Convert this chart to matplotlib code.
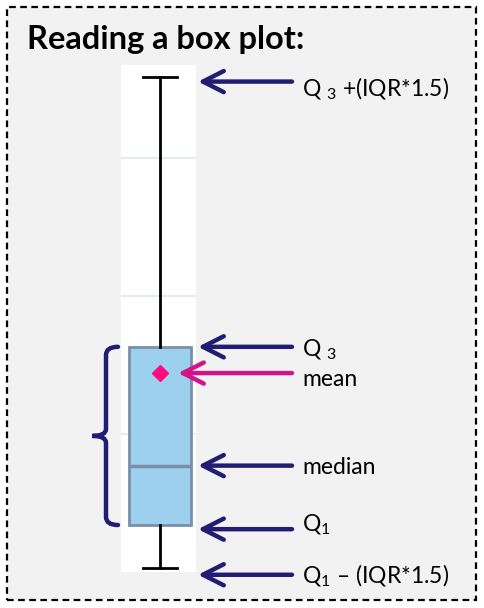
import matplotlib.pyplot as plt
from matplotlib.patches import Rectangle
from matplotlib.path import Path
from matplotlib.patches import PathPatch

plt.rcParams['font.family'] = ['Lato', 'DejaVu Sans']
plt.rcParams['mathtext.fontset'] = 'custom'
plt.rcParams['mathtext.rm'] = 'Lato'
plt.rcParams['mathtext.it'] = 'Lato'

# box plot stats (arbitrary units)
whislo = 0.3
q1 = 3.4
med = 7.7
q3 = 16.3
mean = 14.4
whishi = 35.8
grid_vals = [10, 20, 30]

# arrow labels
labels = ['Q $_{3}$ +(IQR*1.5)', 'Q $_{3}$', 'mean', 'median', 'Q$_{1}$', 'Q$_{1}$ \u2013 (IQR*1.5)']
arrow_y = [whishi - 0.3, q3, mean, med, q1 - 0.3, whislo - 0.5]
label_y = [whishi - 0.8, q3 - 0.2, mean - 0.5, med - 0.1, q1, whislo - 0.6]
arrow_colors = ['#221d72', '#221d72', '#d4138b', '#221d72', '#221d72', '#221d72']

W, H = 484, 608
fig = plt.figure(figsize=(W / 100, H / 100), dpi=100)
fig.patch.set_facecolor('white')

# dashed frame with grey fill
fig.patches.append(Rectangle((7 / W, 1 - 600 / H), 469 / W, 593 / H, transform=fig.transFigure,
                             facecolor='#f2f2f2', edgecolor='black', linestyle=(0, (3, 2)),
                             linewidth=1.6, zorder=-1))

fig.text(27 / W, 1 - 40 / H, 'Reading a box plot:', fontsize=23.5, fontweight='bold',
         va='center', ha='left')

ax = fig.add_axes([121 / W, 1 - 572 / H, 75 / W, 507 / H])
ax.set_facecolor('white')
ax.set_ylim(0, 36.7)
ax.set_xlim(1 - 0.52 * 1.2, 1 + 0.48 * 1.2)
for g in grid_vals:
    ax.axhline(g, color='#e3edf1', lw=1.5, zorder=0)
for s in ax.spines.values():
    s.set_visible(False)

stats = [dict(whislo=whislo, q1=q1, med=med, q3=q3, whishi=whishi, mean=mean, fliers=[])]
ax.bxp(stats, positions=[1], widths=0.99, capwidths=0.53, patch_artist=True, showmeans=True,
       boxprops=dict(facecolor='#9dcfee', edgecolor='#7b8fa6', linewidth=2),
       medianprops=dict(color='#7b8fa6', linewidth=2.5),
       whiskerprops=dict(color='black', linewidth=2),
       capprops=dict(color='black', linewidth=2),
       meanprops=dict(marker='D', markerfacecolor='#ff0a7f', markeredgecolor='#ff0a7f',
                      markersize=8))
ax.lines[-1].set_xdata([1.03])
ax.set_xticks([])
ax.set_yticks([])
ax.set_xlim(1 - 0.52 * 1.2, 1 + 0.48 * 1.2)

# arrows and labels
for lab, ay, ly, c in zip(labels, arrow_y, label_y, arrow_colors):
    tip = 178 / W if lab == 'mean' else 198 / W
    ax.annotate('', xy=(tip, ay), xycoords=('figure fraction', 'data'),
                xytext=(292 / W, ay), textcoords=('figure fraction', 'data'),
                arrowprops=dict(arrowstyle='->, head_length=0.75, head_width=0.38',
                                mutation_scale=20, color=c, lw=3.2, shrinkA=0, shrinkB=0),
                annotation_clip=False)
    ax.annotate(lab, xy=(302 / W, ly), xycoords=('figure fraction', 'data'),
                fontsize=16.5, va='center', ha='left', annotation_clip=False)

# curly brace spanning the IQR
trans = ax.get_yaxis_transform()
mid = (q1 + q3) / 2
bx = [-0.04, -0.2, -0.2, -0.2, -0.2, -0.38, -0.2, -0.2, -0.2, -0.2, -0.04]
by = [q3, q3, q3 - 0.6, mid + 0.5, mid, mid, mid, mid - 0.5, q1 + 0.6, q1, q1]
codes = [Path.MOVETO, Path.CURVE3, Path.CURVE3, Path.LINETO, Path.CURVE3, Path.CURVE3,
         Path.CURVE3, Path.CURVE3, Path.LINETO, Path.CURVE3, Path.CURVE3]
ax.add_patch(PathPatch(Path(list(zip(bx, by)), codes), transform=trans, fill=False,
                       edgecolor='#221d72', lw=3.2, clip_on=False, capstyle='round'))

fig.savefig('out.png', dpi=100)
